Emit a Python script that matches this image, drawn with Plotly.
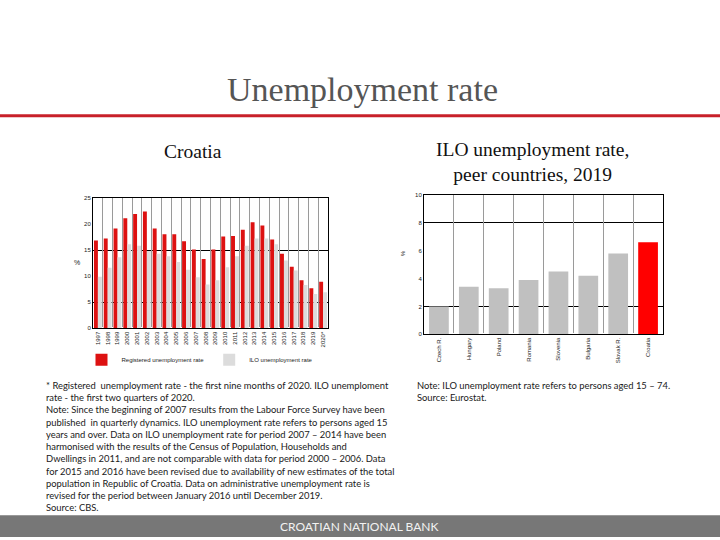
import plotly.graph_objects as go

years = ["1997", "1998", "1999", "2000", "2001", "2002", "2003", "2004", "2005", "2006",
         "2007", "2008", "2009", "2010", "2011", "2012", "2013", "2014", "2015", "2016",
         "2017", "2018", "2019", "2020*"]
registered = [16.8, 17.2, 19.1, 21.1, 21.9, 22.4, 19.1, 18.0, 18.0, 16.7,
              15.1, 13.3, 15.1, 17.6, 17.7, 18.9, 20.3, 19.7, 17.0, 14.3,
              11.8, 9.2, 7.7, 8.9]
ilo = [9.9, 11.6, 13.6, 16.1, 15.8, 14.8, 14.3, 13.8, 12.7, 11.2,
       9.8, 8.4, 9.2, 11.7, 13.8, 15.8, 17.2, 17.2, 16.1, 13.0,
       11.1, 8.3, 6.6, 6.9]

countries = ["Czech R.", "Hungary", "Poland", "Romania", "Slovenia", "Bulgaria", "Slovak R.", "Croatia"]
peer_rates = [2.0, 3.4, 3.3, 3.9, 4.5, 4.2, 5.8, 6.6]
peer_colors = ["#c0c0c0"] * 7 + ["#ff0000"]

W, H = 720, 540
def px(x):
    return x / W
def py(y):
    return 1 - y / H

fig = go.Figure()
fig.add_trace(go.Bar(x=years, y=registered, name="Registered unemployment rate",
                     marker=dict(color="#dd1111", line=dict(width=0)), xaxis="x", yaxis="y"))
fig.add_trace(go.Bar(x=years, y=ilo, name="ILO unemployment rate",
                     marker=dict(color="#dcdcdc", line=dict(width=0)), xaxis="x", yaxis="y"))
fig.add_trace(go.Bar(x=countries, y=peer_rates, showlegend=False, width=0.66,
                     marker=dict(color=peer_colors, line=dict(width=0)), xaxis="x2", yaxis="y2"))

tickfont = dict(family="Liberation Sans, Arial", size=6, color="#222")

fig.update_layout(
    width=W, height=H,
    margin=dict(l=0, r=0, t=0, b=0),
    paper_bgcolor="white", plot_bgcolor="white",
    barmode="group", bargap=0.2, bargroupgap=0.0,
    showlegend=True,
    legend=dict(orientation="h", x=px(200), y=py(346), xanchor="center", yanchor="top",
                font=dict(family="Liberation Sans, Arial", size=6, color="#222"),
                itemwidth=30, bgcolor="rgba(0,0,0,0)", tracegroupgap=0),
    xaxis=dict(domain=[px(93), px(328)], anchor="y", type="category",
               tickangle=-90, tickfont=tickfont, showgrid=True, tickson="boundaries",
               gridcolor="#9a9a9a", gridwidth=1, showline=True, linecolor="black",
               linewidth=1, mirror=True, ticks=""),
    yaxis=dict(domain=[py(329), py(197)], anchor="x", range=[0, 25], tickvals=[0, 5, 10, 15, 20, 25],
               tickfont=tickfont, showgrid=False, showline=True, linecolor="black",
               linewidth=1, mirror=True, ticks="",
               minor=dict(tick0=5, dtick=10, showgrid=True, gridcolor="black", gridwidth=1)),
    xaxis2=dict(domain=[px(424), px(663)], anchor="y2", type="category",
                tickangle=-90, tickfont=tickfont, showgrid=True, tickson="boundaries",
                gridcolor="#9a9a9a", gridwidth=1, showline=True, linecolor="black",
                linewidth=1, mirror=True, ticks=""),
    yaxis2=dict(domain=[py(335), py(194)], anchor="x2", range=[0, 10], tickvals=[0, 2, 4, 6, 8, 10],
                tickfont=tickfont, showgrid=False, showline=True, linecolor="black",
                linewidth=1, mirror=True, ticks="",
                minor=dict(tick0=2, dtick=6, showgrid=True, gridcolor="black", gridwidth=1)),
)

serif = "Liberation Serif, Times New Roman, serif"
notefont = dict(family="Lato, Open Sans, sans-serif", size=9.4, color="#1a1a1a")

annotations = [
    dict(text="Unemployment rate", x=px(362), y=py(87), font=dict(family=serif, size=34, color="#555555")),
    dict(text="Croatia", x=px(193), y=py(150), font=dict(family=serif, size=19.5, color="#111")),
    dict(text="ILO unemployment rate,<br>peer countries, 2019", x=px(532), y=py(161),
         font=dict(family=serif, size=19.5, color="#111")),
    dict(text="%", x=px(77), y=py(262), font=dict(family="Liberation Sans, Arial", size=7, color="#222")),
    dict(text="%", x=px(403), y=py(253), textangle=-90,
         font=dict(family="Liberation Sans, Arial", size=6, color="#222")),
    dict(text="* Registered  unemployment rate - the first nine months of 2020. ILO unemploment<br>"
              "rate - the first two quarters of 2020.<br>"
              "Note: Since the beginning of 2007 results from the Labour Force Survey have been<br>"
              "published  in quarterly dynamics. ILO unemployment rate refers to persons aged 15<br>"
              "years and over. Data on ILO unemployment rate for period 2007 \u2013 2014 have been<br>"
              "harmonised with the results of the Census of Population, Households and<br>"
              "Dwellings in 2011, and are not comparable with data for period 2000 \u2013 2006. Data<br>"
              "for 2015 and 2016 have been revised due to availability of new estimates of the total<br>"
              "population in Republic of Croatia. Data on administrative unemployment rate is<br>"
              "revised for the period between January 2016 until December 2019.<br>"
              "Source: CBS.",
         x=px(44), y=py(379), xanchor="left", yanchor="top", align="left", font=notefont),
    dict(text="Note: ILO unemployment rate refers to persons aged 15 \u2013 74.<br>Source: Eurostat.",
         x=px(415), y=py(379), xanchor="left", yanchor="top", align="left", font=notefont),
    dict(text="CROATIAN NATIONAL BANK", x=px(359), y=py(529),
         font=dict(family="Lato, Open Sans, sans-serif", size=12, color="#f2f2f2")),
]
for a in annotations:
    a.setdefault("xanchor", "center")
    a.setdefault("yanchor", "middle")
    a.update(xref="paper", yref="paper", showarrow=False)
fig.update_layout(annotations=annotations)

fig.update_layout(shapes=[
    dict(type="line", xref="paper", yref="paper", x0=0, x1=1, y0=py(114), y1=py(114),
         line=dict(color="#c8202a", width=3)),
    dict(type="rect", xref="paper", yref="paper", x0=0, x1=1, y0=0, y1=py(518),
         fillcolor="#777777", line=dict(width=0), layer="below"),
])

fig.write_html("out.html", config={"displayModeBar": False},
               post_script="document.body.style.margin='0';document.body.style.overflow='hidden';")
